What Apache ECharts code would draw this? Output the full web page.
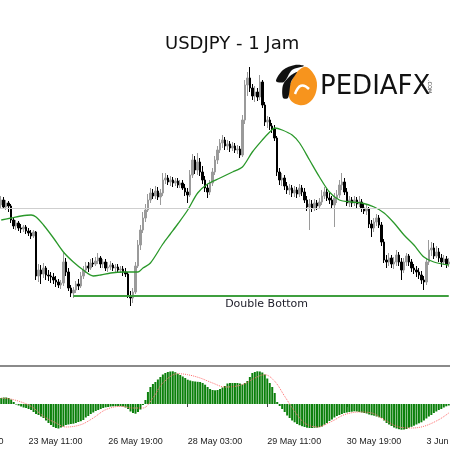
<!DOCTYPE html>
<html>
<head>
<meta charset="utf-8">
<script src="https://cdn.jsdelivr.net/npm/echarts@6/dist/echarts.min.js"></script>
<style>html,body{margin:0;padding:0;background:#fff}#c{width:450px;height:450px}</style>
</head>
<body>
<div id="c"></div>
<script>
// USDJPY H1 candles: [open, close, low, high]
const candles = [
[143.90,144.00,143.84,144.08],[144.00,143.86,143.82,144.06],[143.86,143.94,143.80,144.00],[143.94,143.88,143.76,143.98],[143.88,143.60,143.54,143.92],
[143.60,143.48,143.42,143.64],[143.48,143.54,143.40,143.60],[143.54,143.44,143.38,143.58],[143.44,143.42,143.34,143.52],[143.42,143.46,143.36,143.50],
[143.46,143.38,143.32,143.50],[143.38,143.34,143.28,143.44],[143.34,143.28,143.22,143.40],[143.28,143.36,143.24,143.40],[143.36,142.48,142.40,143.38],
[142.48,142.60,142.36,142.72],[142.60,142.52,142.32,142.70],[142.52,142.64,142.44,142.74],[142.64,142.50,142.40,142.68],[142.50,142.48,142.38,142.60],
[142.48,142.46,142.34,142.56],[142.46,142.40,142.32,142.54],[142.40,142.36,142.26,142.48],[142.36,142.30,142.24,142.42],[142.30,142.34,142.22,142.40],
[142.34,142.76,142.28,142.94],[142.76,142.56,142.48,142.84],[142.56,142.24,142.18,142.64],[142.24,142.14,142.06,142.30],[142.14,142.20,142.04,142.26],
[142.20,142.32,142.14,142.38],[142.32,142.28,142.20,142.42],[142.28,142.48,142.24,142.56],[142.48,142.60,142.42,142.68],[142.60,142.68,142.54,142.76],
[142.68,142.64,142.56,142.76],[142.64,142.74,142.60,142.82],[142.74,142.72,142.66,142.84],[142.72,142.78,142.68,142.86],[142.78,142.84,142.72,142.94],
[142.84,142.72,142.64,142.88],[142.72,142.76,142.64,142.82],[142.76,142.64,142.58,142.82],[142.64,142.66,142.56,142.76],[142.66,142.70,142.60,142.78],
[142.70,142.64,142.58,142.74],[142.64,142.66,142.56,142.72],[142.66,142.60,142.54,142.72],[142.60,142.62,142.54,142.68],[142.62,142.56,142.48,142.68],
[142.56,142.52,142.46,142.64],[142.52,142.08,142.04,142.56],[142.08,142.04,141.88,142.18],[142.04,142.16,141.94,142.24],[142.16,142.68,142.12,142.76],
[142.68,143.10,142.64,143.20],[143.10,143.40,143.00,143.50],[143.40,143.64,143.34,143.76],[143.64,143.80,143.56,143.92],[143.80,144.00,143.76,144.12],
[144.00,144.14,143.94,144.24],[144.14,144.08,144.02,144.22],[144.08,144.18,144.02,144.28],[144.18,144.06,144.00,144.26],[144.06,144.14,143.90,144.22],
[144.14,144.40,144.08,144.54],[144.40,144.44,144.32,144.54],[144.44,144.36,144.30,144.50],[144.36,144.40,144.28,144.48],[144.40,144.34,144.26,144.46],
[144.34,144.38,144.28,144.44],[144.38,144.30,144.24,144.44],[144.30,144.34,144.24,144.40],[144.34,144.24,144.20,144.40],[144.24,144.16,144.08,144.32],
[144.16,144.10,143.94,144.24],[144.10,144.50,144.06,144.60],[144.50,144.80,144.44,144.92],[144.80,144.60,144.52,144.88],[144.60,144.76,144.50,144.94],
[144.76,144.56,144.48,144.84],[144.56,144.40,144.32,144.68],[144.40,144.24,144.16,144.48],[144.24,144.16,144.04,144.32],[144.16,144.34,144.10,144.40],
[144.34,144.56,144.28,144.64],[144.56,144.80,144.50,144.88],[144.80,145.00,144.72,145.08],[145.00,145.14,144.94,145.22],[145.14,145.20,145.04,145.30],
[145.20,145.08,145.00,145.26],[145.08,145.12,145.00,145.20],[145.12,145.04,144.96,145.18],[145.04,145.08,144.98,145.16],[145.08,145.00,144.94,145.14],
[145.00,145.02,144.92,145.10],[145.02,144.90,144.84,145.08],[144.90,145.60,144.86,145.70],[145.60,146.30,145.52,146.40],[146.30,146.44,146.08,146.56],
[146.44,146.24,146.16,146.66],[146.24,146.08,146.00,146.32],[146.08,146.16,145.96,146.28],[146.16,146.06,145.98,146.24],[146.06,146.36,146.00,146.50],
[146.36,145.90,145.84,146.40],[145.90,145.56,145.48,145.96],[145.56,145.60,145.44,145.68],[145.60,145.48,145.40,145.66],[145.48,145.42,145.34,145.54],
[145.42,145.24,145.18,145.50],[145.24,144.56,144.48,145.28],[144.56,144.40,144.30,144.64],[144.40,144.44,144.28,144.54],[144.44,144.28,144.20,144.50],
[144.28,144.20,144.12,144.36],[144.20,144.24,144.10,144.32],[144.24,144.14,144.06,144.30],[144.14,144.20,144.06,144.28],[144.20,144.12,144.04,144.26],
[144.12,144.24,144.06,144.32],[144.24,144.16,144.08,144.30],[144.16,144.00,143.94,144.24],[144.00,143.86,143.78,144.08],[143.86,143.92,143.40,144.02],
[143.92,143.84,143.76,144.00],[143.84,143.94,143.78,144.02],[143.94,143.88,143.80,144.00],[143.88,143.96,143.82,144.04],[143.96,144.08,143.90,144.20],
[144.08,144.16,144.02,144.26],[144.16,144.04,143.98,144.22],[144.04,144.00,143.92,144.14],[144.00,143.90,143.82,144.08],[143.90,144.04,143.46,144.14],
[144.04,144.10,143.94,144.20],[144.10,144.30,144.04,144.40],[144.30,144.36,144.20,144.54],[144.36,144.16,144.10,144.44],[144.16,143.94,143.88,144.24],
[143.94,144.00,143.86,144.08],[144.00,143.94,143.86,144.06],[143.94,144.00,143.88,144.08],[144.00,143.92,143.84,144.06],[143.92,143.96,143.86,144.08],
[143.96,143.84,143.76,144.02],[143.84,143.78,143.72,143.92],[143.78,143.82,143.70,143.90],[143.82,143.52,143.44,143.86],[143.52,143.44,143.26,143.60],
[143.44,143.56,143.36,143.64],[143.56,143.64,143.48,143.72],[143.64,143.50,143.44,143.70],[143.50,143.16,143.08,143.56],[143.16,142.80,142.74,143.22],
[142.80,142.76,142.64,142.90],[142.76,142.84,142.68,142.94],[142.84,142.72,142.64,142.90],[142.72,142.76,142.62,142.86],[142.76,142.90,142.68,143.00],
[142.90,142.76,142.68,142.96],[142.76,142.60,142.40,142.84],[142.60,142.76,142.54,142.84],[142.76,142.88,142.68,142.94],[142.88,142.76,142.68,142.92],
[142.76,142.64,142.56,142.82],[142.64,142.60,142.52,142.72],[142.60,142.56,142.46,142.68],[142.56,142.50,142.42,142.64],[142.50,142.40,142.32,142.58],
[142.40,142.36,142.20,142.48],[142.36,142.76,142.30,142.84],[142.76,143.00,142.70,143.20],[143.00,143.04,142.88,143.16],[143.04,142.88,142.82,143.14],
[142.88,142.96,142.84,143.08],[142.96,142.84,142.76,143.04],[142.84,142.76,142.66,142.92],[142.76,142.82,142.70,142.90],[142.82,142.72,142.64,142.88],
[142.72,142.76,142.66,142.84]
];

// Moving average read at selected bars: [barIndex, value]
const maPoints = [
[0,143.60],[4,143.64],[8,143.68],[12,143.70],[14,143.66],[17,143.50],[21,143.24],[25,142.96],[29,142.76],[33,142.60],
[37,142.48],[40,142.50],[44,142.54],[49,142.56],[55,142.56],[57,142.64],[60,142.74],[65,143.12],[68,143.32],[71,143.52],
[75,143.80],[79,144.14],[83,144.32],[88,144.44],[93,144.56],[97,144.66],[101,144.96],[105,145.20],[108,145.36],[110,145.44],
[113,145.40],[117,145.30],[120,145.14],[124,144.80],[128,144.46],[132,144.16],[136,144.00],[141,143.96],[145,143.94],[150,143.86],
[154,143.74],[158,143.54],[162,143.30],[166,143.10],[170,142.86],[174,142.76],[180,142.70]
];

// Oscillator histogram, one value per bar
const histogram = [
0.06,0.065,0.065,0.06,0.045,0.02,-0.005,-0.015,-0.025,-0.035,
-0.04,-0.05,-0.06,-0.08,-0.10,-0.11,-0.125,-0.14,-0.165,-0.19,
-0.21,-0.23,-0.24,-0.245,-0.235,-0.225,-0.21,-0.205,-0.2,-0.197,
-0.19,-0.18,-0.172,-0.16,-0.135,-0.12,-0.10,-0.085,-0.07,-0.06,
-0.05,-0.04,-0.033,-0.03,-0.025,-0.023,-0.022,-0.022,-0.022,-0.025,
-0.035,-0.05,-0.075,-0.09,-0.097,-0.08,-0.055,-0.01,0.04,0.12,
0.17,0.2,0.22,0.245,0.27,0.295,0.31,0.32,0.325,0.327,
0.318,0.303,0.29,0.275,0.26,0.243,0.235,0.228,0.225,0.222,
0.22,0.21,0.193,0.17,0.15,0.14,0.137,0.14,0.15,0.165,
0.18,0.205,0.21,0.21,0.21,0.21,0.205,0.195,0.21,0.23,
0.27,0.31,0.32,0.327,0.325,0.315,0.295,0.255,0.21,0.17,
0.11,0.02,-0.02,-0.05,-0.08,-0.115,-0.14,-0.165,-0.183,-0.2,
-0.212,-0.222,-0.23,-0.237,-0.24,-0.24,-0.238,-0.236,-0.232,-0.225,
-0.207,-0.19,-0.17,-0.155,-0.135,-0.12,-0.11,-0.1,-0.09,-0.085,
-0.08,-0.077,-0.073,-0.075,-0.08,-0.085,-0.09,-0.095,-0.105,-0.112,
-0.117,-0.125,-0.133,-0.14,-0.165,-0.19,-0.205,-0.22,-0.235,-0.245,
-0.252,-0.257,-0.255,-0.25,-0.237,-0.228,-0.217,-0.205,-0.193,-0.183,
-0.165,-0.145,-0.125,-0.11,-0.09,-0.075,-0.06,-0.05,-0.035,-0.023,
-0.015
];

// Signal line read at selected bars: [barIndex, value]
const signalPoints = [
[0,0.06],[5,0.043],[12,-0.023],[17,-0.123],[22,-0.19],[26,-0.23],[32,-0.207],[37,-0.14],[42,-0.057],[48,-0.023],
[53,-0.04],[57,-0.04],[61,0.06],[65,0.21],[71,0.303],[75,0.293],[80,0.26],[85,0.21],[90,0.17],[97,0.193],
[102,0.26],[106,0.293],[110,0.227],[114,0.077],[118,-0.073],[122,-0.19],[127,-0.23],[133,-0.173],[138,-0.107],[144,-0.08],
[149,-0.09],[154,-0.157],[160,-0.23],[165,-0.24],[170,-0.223],[176,-0.157],[180,-0.09]
];

const doubleBottom = 142.08;
const doubleBottomFrom = 29;
const resistanceLevel = 143.84;

const tickIdx = [11, 43, 75, 107, 139, 171];
const tickLabels = ['23 May 11:00','26 May 19:00','28 May 03:00','29 May 11:00','30 May 19:00','3 Jun 03:00'];
const leftCutLabel = '22 May 03:00';

const categories = candles.map((_, i) => String(i));
const showTick = (idx) => tickIdx.indexOf(idx) >= 0;

const chart = echarts.init(document.getElementById('c'), null, {renderer: 'canvas'});
const labelFont = {fontFamily: 'Liberation Sans', fontSize: 9, color: '#222'};

chart.setOption({
  animation: false,
  backgroundColor: '#ffffff',
  title: {
    text: 'USDJPY - 1 Jam', left: 165, top: 35, padding: 0,
    textStyle: {fontFamily: 'DejaVu Sans', fontSize: 18, fontWeight: 'normal', color: '#111'}
  },
  grid: [
    {left: 0, right: 0, top: 60, height: 300, containLabel: false, outerBoundsMode: 'none'},
    {left: 0, right: 0, top: 369, height: 65, containLabel: false, outerBoundsMode: 'none'}
  ],
  xAxis: [
    {type: 'category', gridIndex: 0, data: categories, boundaryGap: true,
     axisLine: {show: false}, axisTick: {show: false}, axisLabel: {show: false}, splitLine: {show: false}},
    {type: 'category', gridIndex: 1, data: categories, boundaryGap: true,
     axisLine: {show: false},
     axisTick: {show: true, interval: (i) => showTick(i), alignWithLabel: true, length: 3, lineStyle: {color: '#444'}},
     axisLabel: Object.assign({show: true, interval: (i) => showTick(i), align: 'left', margin: 3, hideOverlap: false,
       formatter: (v, i) => tickLabels[tickIdx.indexOf(i)] || ''}, labelFont),
     splitLine: {show: false}}
  ],
  yAxis: [
    {type: 'value', gridIndex: 0, min: 140.8, max: 146.8, show: false, splitLine: {show: false}},
    {type: 'value', gridIndex: 1, min: -0.30, max: 0.35, show: false, splitLine: {show: false}}
  ],
  series: [
    {
      type: 'candlestick', xAxisIndex: 0, yAxisIndex: 0, data: candles, barWidth: 2,
      itemStyle: {color: '#9a9a9a', color0: '#000000', borderColor: '#9a9a9a', borderColor0: '#000000', borderWidth: 1},
      markLine: {
        symbol: 'none', silent: true, animation: false,
        data: [
          {yAxis: resistanceLevel, lineStyle: {color: '#cfcfcf', width: 1, type: 'solid'}, label: {show: false}},
          [
            {coord: [doubleBottomFrom, doubleBottom], lineStyle: {color: '#3f9f3f', width: 2, type: 'solid'},
             label: {show: true, formatter: 'Double Bottom', position: 'insideMiddleBottom', distance: 3,
                     padding: [0, 0, 0, 11], fontFamily: 'DejaVu Sans', fontSize: 11, color: '#1c1c28'}},
            {coord: [candles.length - 1, doubleBottom]}
          ]
        ]
      },
      z: 3
    },
    {
      type: 'line', xAxisIndex: 0, yAxisIndex: 0, data: maPoints, smooth: 0.3, showSymbol: false,
      lineStyle: {color: '#2a982a', width: 1.3}, z: 4
    },
    {
      type: 'bar', xAxisIndex: 1, yAxisIndex: 1, data: histogram, barWidth: 2,
      itemStyle: {color: '#0b800b'}, z: 2
    },
    {
      type: 'line', xAxisIndex: 1, yAxisIndex: 1, data: signalPoints, smooth: 0.35, showSymbol: false,
      lineStyle: {color: '#ff7070', width: 1, type: 'dotted'}, z: 3
    }
  ],
  graphic: [
    {type: 'rect', shape: {x: 0, y: 365, width: 450, height: 2}, style: {fill: '#8a8a8a'}, silent: true},
    {type: 'text', x: -51, y: 437, style: {text: leftCutLabel, font: '9px "Liberation Sans"', fill: '#222'}},
    // logo
    {type: 'polygon', silent: true, shape: {points: [[292,80],[304,67],[313,73],[317,86],[311,101],[299,105],[289,97]], smooth: 0.4}, style: {fill: '#f7941d'}},
    {type: 'bezierCurve', silent: true, shape: {x1: 295, y1: 94, cpx1: 300, cpy1: 80, x2: 309, y2: 89}, style: {stroke: '#ffffff', lineWidth: 2.5, fill: null}},
    {type: 'polygon', silent: true, shape: {points: [[276,81],[283,70],[295,65],[304,66],[292,70],[284,82]], smooth: 0.3}, style: {fill: '#111'}},
    {type: 'polygon', silent: true, shape: {points: [[283,98],[283,85],[290,76],[297,72],[291,82],[288,98]], smooth: 0.3}, style: {fill: '#111'}},
    {type: 'text', silent: true, x: 320, y: 74, style: {text: 'PEDIAFX', font: '26px "DejaVu Sans"', fill: '#111'}},
    {type: 'text', silent: true, x: 432, y: 80, rotation: -Math.PI / 2, style: {text: '.COM', font: '5px "DejaVu Sans"', fill: '#333'}}
  ]
});
</script>
</body>
</html>
